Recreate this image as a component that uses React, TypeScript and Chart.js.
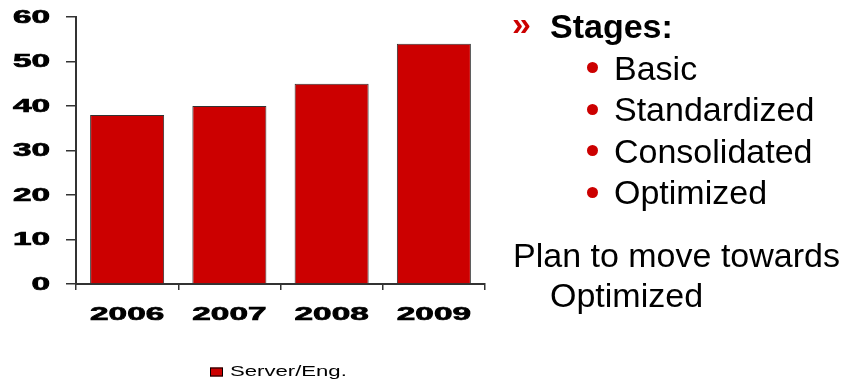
import React, { useEffect, useRef } from "react";
import { Chart, registerables } from "chart.js";

Chart.register(...registerables);

// ---- data ----
const categories = ["2006", "2007", "2008", "2009"];
const seriesLabel = "Server/Eng.";
const seriesValues = [38, 40, 45, 54];
const yMin = 0;
const yMax = 60;
const yStep = 10;

const stagesTitle = "Stages:";
const stages = ["Basic", "Standardized", "Consolidated", "Optimized"];
const planLines = ["Plan to move towards", "Optimized"];

// ---- style ----
const RED = "#CC0000";
const AXIS = "#333333";
const TICK_FONT = "bold 18px 'Liberation Sans', Arial, sans-serif";
const TICK_STRETCH = 1.85;
const LEGEND_FONT = "14px 'Liberation Sans', Arial, sans-serif";
const LEGEND_STRETCH = 1.58;

function heavyText(ctx: CanvasRenderingContext2D, text: string) {
  ctx.fillText(text, 0, 0);
  ctx.lineWidth = 0.7;
  ctx.strokeStyle = "#000";
  ctx.strokeText(text, 0, 0);
}

const stretchedText = {
  id: "stretchedText",
  afterDraw(chart: any) {
    const ctx = chart.ctx as CanvasRenderingContext2D;
    const xs = chart.scales.x;
    const ys = chart.scales.y;
    const area = chart.chartArea;
    ctx.save();
    ctx.fillStyle = "#000";
    ctx.font = TICK_FONT;
    ctx.textBaseline = "middle";

    // y tick labels
    ctx.textAlign = "right";
    ys.ticks.forEach((t: any, i: number) => {
      const py = ys.getPixelForTick(i);
      ctx.save();
      ctx.translate(area.left - 26, py + 1);
      ctx.scale(TICK_STRETCH, 1);
      heavyText(ctx, String(t.label));
      ctx.restore();
    });

    // x tick labels
    ctx.textAlign = "center";
    xs.ticks.forEach((t: any, i: number) => {
      const px = xs.getPixelForTick(i);
      ctx.save();
      ctx.translate(px, area.bottom + 31);
      ctx.scale(TICK_STRETCH, 1);
      heavyText(ctx, String(xs.getLabelForValue(t.value)));
      ctx.restore();
    });

    // legend
    const ds = chart.data.datasets[0];
    ctx.font = LEGEND_FONT;
    const tw = ctx.measureText(ds.label).width * LEGEND_STRETCH;
    const boxW = 13;
    const boxH = 9;
    const gap = 7;
    const total = boxW + gap + tw;
    const cx = (area.left + area.right) / 2 - 2;
    const sx = Math.round(cx - total / 2);
    const cy = 372;
    ctx.fillStyle = ds.backgroundColor;
    ctx.fillRect(sx, cy - boxH / 2, boxW, boxH);
    ctx.strokeStyle = "#000";
    ctx.lineWidth = 1;
    ctx.strokeRect(sx + 0.5, cy - boxH / 2 + 0.5, boxW - 1, boxH - 1);
    ctx.fillStyle = "#000";
    ctx.textAlign = "left";
    ctx.textBaseline = "middle";
    ctx.save();
    ctx.translate(sx + boxW + gap, cy);
    ctx.scale(LEGEND_STRETCH, 1);
    ctx.fillText(ds.label, 0, 0);
    ctx.restore();

    ctx.restore();
  },
};

const textBase: React.CSSProperties = {
  position: "absolute",
  whiteSpace: "nowrap",
  fontSize: 34,
  lineHeight: "41px",
  color: "#000",
};

export default function App() {
  const ref = useRef<HTMLCanvasElement>(null);

  useEffect(() => {
    document.body.style.margin = "0";
    const chart = new Chart(ref.current as HTMLCanvasElement, {
      type: "bar",
      data: {
        labels: categories,
        datasets: [
          {
            label: seriesLabel,
            data: seriesValues,
            backgroundColor: RED,
            borderColor: AXIS,
            borderWidth: 1,
            categoryPercentage: 1,
            barPercentage: 0.724,
          },
        ],
      },
      options: {
        animation: false,
        responsive: false,
        maintainAspectRatio: false,
        layout: { padding: { left: 0, top: 17, right: 365, bottom: 0 } },
        plugins: {
          legend: { display: false },
          tooltip: { enabled: false },
        },
        scales: {
          x: {
            offset: true,
            grid: {
              display: true,
              offset: true,
              drawOnChartArea: false,
              drawTicks: true,
              tickLength: 6,
              color: AXIS,
              lineWidth: 1.5,
            },
            border: { display: true, color: AXIS, width: 2 },
            ticks: { color: "rgba(0,0,0,0)", font: { size: 18, weight: "bold" } },
            afterFit: (s: any) => {
              s.height = 97;
            },
          },
          y: {
            min: yMin,
            max: yMax,
            ticks: { stepSize: yStep, color: "rgba(0,0,0,0)", font: { size: 18, weight: "bold" } },
            grid: {
              display: true,
              drawOnChartArea: false,
              drawTicks: true,
              tickLength: 10,
              color: AXIS,
              lineWidth: 1.5,
            },
            border: { display: true, color: AXIS, width: 2 },
            afterFit: (s: any) => {
              s.width = 76;
            },
          },
        },
      } as any,
      plugins: [stretchedText as any],
    });
    return () => chart.destroy();
  }, []);

  return (
    <div
      style={{
        position: "relative",
        width: 850,
        height: 381,
        overflow: "hidden",
        background: "#fff",
        fontFamily: "'Liberation Sans', Arial, sans-serif",
      }}
    >
      <canvas
        ref={ref}
        width={850}
        height={381}
        style={{ position: "absolute", left: 0, top: 0, width: 850, height: 381 }}
      />
      <div
        style={{
          position: "absolute",
          left: 512,
          top: 6,
          fontSize: 34,
          lineHeight: "34px",
          fontWeight: "bold",
          color: RED,
        }}
      >
        »
      </div>
      <div style={{ ...textBase, left: 550, top: 6, fontWeight: "bold" }}>{stagesTitle}</div>
      {stages.map((s, i) => (
        <React.Fragment key={s}>
          <div
            style={{
              position: "absolute",
              left: 587,
              top: 62 + i * 41.5,
              width: 11,
              height: 11,
              borderRadius: "50%",
              background: RED,
            }}
          />
          <div style={{ ...textBase, left: 614, top: 47.7 + i * 41.5 }}>{s}</div>
        </React.Fragment>
      ))}
      <div style={{ ...textBase, left: 513, top: 234.7 }}>{planLines[0]}</div>
      <div style={{ ...textBase, left: 550, top: 274.7 }}>{planLines[1]}</div>
    </div>
  );
}
